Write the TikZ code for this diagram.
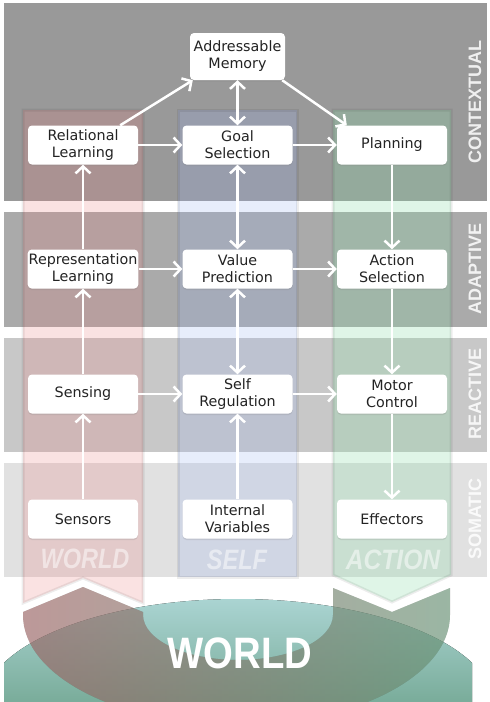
\documentclass[tikz,border=0pt]{standalone}
\usepackage{fontspec}
\setmainfont{DejaVu Sans}
\newfontfamily\labfont{Liberation Sans}
\usetikzlibrary{arrows.meta,shadows}

\definecolor{ctxgray}{RGB}{153,153,153}
\definecolor{adpgray}{RGB}{170,170,170}
\definecolor{reagray}{RGB}{200,200,200}
\definecolor{somgray}{RGB}{225,225,225}
\definecolor{worldred}{RGB}{236,120,120}
\definecolor{selfblue}{RGB}{150,175,240}
\definecolor{actgreen}{RGB}{135,220,165}
\definecolor{boxtext}{RGB}{35,35,35}
\definecolor{bandpink}{RGB}{245,160,160}
\definecolor{bandgreen}{RGB}{165,230,185}
\definecolor{elltop}{RGB}{170,212,210}
\definecolor{ellmid}{RGB}{88,168,118}
\definecolor{ellbot}{RGB}{70,130,95}

\tikzset{
  layerband/.style={fill=#1, draw=none},
  colred/.style={fill=worldred, fill opacity=0.21, draw=black, draw opacity=0.07, line width=3pt, line join=miter},
  colblue/.style={fill=selfblue, fill opacity=0.22, draw=black, draw opacity=0.07, line width=3pt, line join=miter},
  colgreen/.style={fill=actgreen, fill opacity=0.26, draw=black, draw opacity=0.07, line width=3pt, line join=miter},
  box/.style={fill=white, rounded corners=4pt, minimum width=110pt, minimum height=39pt,
    align=center, inner sep=1pt, text=boxtext, font=\fontsize{14.3}{17}\selectfont,
    drop shadow={opacity=0.2, shadow xshift=0pt, shadow yshift=-1.5pt}},
  flow/.style={draw=white, line width=2.5pt, -{Straight Barb[length=7pt,width=15pt]}},
  biflow/.style={draw=white, line width=2.5pt, {Straight Barb[length=7pt,width=15pt]}-{Straight Barb[length=7pt,width=15pt]}},
  layerlabel/.style={rotate=90, text=white, text opacity=0.85, inner sep=0pt, font=\labfont\bfseries\fontsize{18}{18}\selectfont},
  collabel/.style={text=white, text opacity=0.5, inner sep=0pt, font=\labfont\bfseries\itshape\fontsize{28}{28}\selectfont},
}

\begin{document}
\begin{tikzpicture}[x=1pt,y=-1pt]
\useasboundingbox (0,0) rectangle (490,702);
\fill[white] (0,0) rectangle (490,702);

% layers
\fill[layerband=ctxgray] (4,3) rectangle (487,201);
\fill[layerband=adpgray] (4,212) rectangle (487,327);
\fill[layerband=reagray] (4,338) rectangle (487,452);
\fill[layerband=somgray] (4,463) rectangle (487,577);

% world ellipse
\begin{scope}
  \clip (4,560) rectangle (472,702);
  \fill[top color=elltop, middle color=ellmid, bottom color=ellbot] (238,705) ellipse [x radius=255, y radius=106];
\end{scope}

% U band from action back to world
\fill[left color=bandpink, right color=bandgreen, fill opacity=0.42]
  (23,612) -- (83,587) -- (143,612) -- (143,615)
  arc[start angle=180, end angle=0, x radius=95, y radius=45]
  -- (333,588) -- (392,612) -- (450,588) -- (450,615)
  arc[start angle=0, end angle=180, x radius=213.5, y radius=110] -- cycle;

% columns
\path[colred] (23,110) -- (143,110) -- (143,603) -- (83,578) -- (23,603) -- cycle;
\path[colblue] (178,110) rectangle (297,577);
\path[colgreen] (333,110) -- (451,110) -- (451,575) -- (392,602) -- (333,575) -- cycle;

% column labels
\node[collabel] (lworld) at (85,559) {\scalebox{0.84}[1]{WORLD}};
\node[collabel] (lself) at (237,560) {\scalebox{0.84}[1]{SELF}};
\node[collabel] (laction) at (393,560) {\scalebox{0.88}[1]{ACTION}};

% layer labels
\node[layerlabel] (lctx) at (475,102) {CONTEXTUAL};
\node[layerlabel] (ladp) at (475,269) {ADAPTIVE};
\node[layerlabel] (lrea) at (475,394) {REACTIVE};
\node[layerlabel] (lsom) at (475,519) {SOMATIC};

% boxes
\node[box, minimum width=95pt, minimum height=47pt] (am) at (237.5,56.5) {Addressable\\Memory};
\node[box] (rl) at (83,145) {Relational\\Learning};
\node[box] (gs) at (237.5,145) {Goal\\Selection};
\node[box] (pl) at (392,145) {Planning};
\node[box] (rep) at (83,269) {Representation\\Learning};
\node[box] (vp) at (237.5,269) {Value\\Prediction};
\node[box] (as) at (392,269) {Action\\Selection};
\node[box] (sen) at (83,394) {Sensing};
\node[box] (sr) at (237.5,394) {Self\\Regulation};
\node[box] (mc) at (392,394) {Motor\\Control};
\node[box] (sns) at (83,519) {Sensors};
\node[box] (iv) at (237.5,519) {Internal\\Variables};
\node[box] (eff) at (392,519) {Effectors};

% connectors
\draw[flow] ([xshift=-18pt]rl.north east) -- ([xshift=3pt]am.south west);
\draw[flow] ([xshift=-3pt]am.south east) -- ([xshift=10pt]pl.north west);
\draw[biflow] (am) -- (gs);
\draw[flow] (rl) -- (gs);
\draw[flow] (gs) -- (pl);
\draw[flow] (rep) -- (rl);
\draw[biflow] (gs) -- (vp);
\draw[flow] (pl) -- (as);
\draw[flow] (rep) -- (vp);
\draw[flow] (vp) -- (as);
\draw[flow] (sen) -- (rep);
\draw[biflow] (vp) -- (sr);
\draw[flow] (as) -- (mc);
\draw[flow] (sen) -- (sr);
\draw[flow] (sr) -- (mc);
\draw[flow] (sns) -- (sen);
\draw[flow] (iv) -- (sr);
\draw[flow] (mc) -- (eff);

% big world label
\node[text=white, inner sep=0pt, font=\labfont\bfseries\fontsize{44}{44}\selectfont] (bigworld) at (240,653) {\scalebox{0.87}[1]{WORLD}};
\end{tikzpicture}
\end{document}
